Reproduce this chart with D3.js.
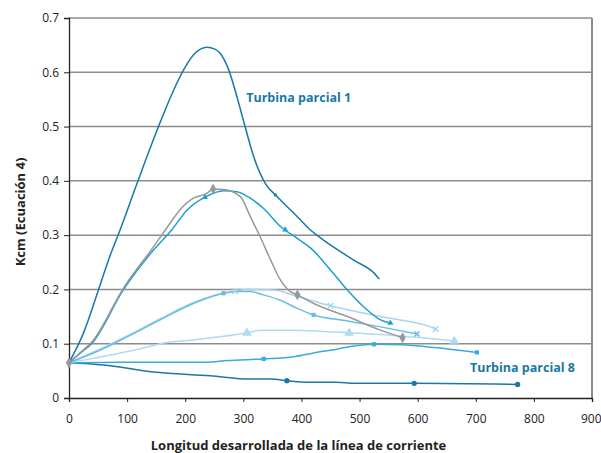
<!DOCTYPE html>
<html lang="en">
<head>
<meta charset="UTF-8">
<title>Kcm</title>
<style>
  body { margin: 0; background: #fff; }
  text { font-family: "Open Sans", "DejaVu Sans", sans-serif; }
</style>
</head>
<body>
<svg height="453" width="601"></svg>
<script src="https://d3js.org/d3.v7.min.js"></script>
<script>

    // tick values
    var xTicks = [0, 100, 200, 300, 400, 500, 600, 700, 800, 900];
    var yTicks = [0, 0.1, 0.2, 0.3, 0.4, 0.5, 0.6, 0.7];

    // Turbina parcial 1
    var tp1 = [[0,0.065],[25,0.12],[51,0.2],[70,0.26],[88,0.31],[117,0.395],[154,0.5],[180,0.567],
        [197,0.604],[214,0.632],[238,0.646],[250,0.643],[260,0.635],[275,0.604],[289,0.555],[303,0.5],
        [318,0.444],[338,0.395],[358,0.371],[393,0.334],[416,0.309],[438,0.291],[490,0.254],[525,0.23],[534,0.219]];
    var tp1Marks = [[355,0.374]];

    // grey curve
    var grey = [[0,0.065],[20,0.084],[40,0.104],[94,0.203],[145,0.278],[174,0.322],[189,0.344],[214,0.368],[237,0.377],
        [248,0.385],[266,0.384],[295,0.371],[312,0.334],[329,0.297],[347,0.254],[364,0.217],[381,0.196],
        [393,0.19],[421,0.174],[479,0.15],[536,0.125],[574,0.111]];
    var greyMarks = [[0,0.065],[248,0.385],[393,0.19],[574,0.111]];

    // cyan curve
    var cyan = [[0,0.065],[20,0.083],[39,0.1],[94,0.2],[145,0.272],[177,0.31],[203,0.346],[234,0.37],[266,0.382],
        [289,0.38],[312,0.368],[335,0.349],[364,0.316],[393,0.294],[416,0.276],[450,0.236],[479,0.199],
        [507,0.168],[536,0.144],[553,0.138]];
    var cyanMarks = [[234,0.37],[372,0.31],[553,0.138]];

    // light blue, squares
    var lbSq = [[0,0.065],[53,0.088],[99,0.112],[157,0.144],[214,0.174],[266,0.193],[289,0.196],[312,0.196],
        [335,0.19],[364,0.18],[393,0.165],[421,0.153],[479,0.142],[536,0.131],[599,0.118]];
    var lbSqMarks = [[266,0.193],[421,0.153]];
    var lbSqEnd = [[599,0.118]];

    // lighter blue, crosses
    var lbX = [[0,0.065],[53,0.09],[99,0.114],[157,0.146],[214,0.176],[286,0.197],[306,0.2],[352,0.199],
        [393,0.187],[450,0.17],[536,0.15],[622,0.131],[631,0.127]];
    var lbXMarks = [[286,0.197],[450,0.17],[631,0.127]];

    // lightest blue, triangles
    var lbTri = [[0,0.065],[42,0.073],[128,0.092],[157,0.1],[214,0.107],[306,0.12],[329,0.125],[386,0.125],
        [444,0.122],[482,0.12],[560,0.115],[663,0.105]];
    var lbTriMarks = [[306,0.12],[482,0.12],[663,0.105]];

    // medium blue, flat then rising
    var mid = [[0,0.065],[91,0.066],[237,0.066],[272,0.069],[335,0.072],[387,0.076],[421,0.083],[461,0.09],
        [490,0.096],[525,0.099],[571,0.098],[628,0.093],[702,0.084]];
    var midMarks = [[335,0.072],[525,0.099],[702,0.084]];

    // Turbina parcial 8
    var tp8 = [[0,0.065],[59,0.061],[145,0.048],[243,0.041],[312,0.035],[347,0.035],[375,0.032],[410,0.029],
        [461,0.029],[490,0.027],[594,0.027],[772,0.025]];
    var tp8Marks = [[375,0.032],[594,0.027],[772,0.025]];

    var svg = d3.select("svg"),
        margin = {top: 18, right: 9, bottom: 55, left: 69};

    var width = +svg.attr("width") - margin.left - margin.right;
    var height = +svg.attr("height") - margin.top - margin.bottom;

    var x = d3.scaleLinear().domain([0, 900]).range([0, width]);
    var y = d3.scaleLinear().domain([0, 0.7]).range([height, 0]);

    var g = svg.append("g")
        .attr("transform", "translate(" + margin.left + "," + margin.top + ")");

    // grid
    g.selectAll(".grid")
        .data(yTicks.slice(1))
        .enter()
        .append("line")
        .attr("x1", 0).attr("x2", width)
        .attr("y1", function(d) { return y(d); })
        .attr("y2", function(d) { return y(d); })
        .attr("stroke", "#8c8c8c")
        .attr("stroke-width", 1.5);

    g.append("line")
        .attr("x1", width).attr("x2", width)
        .attr("y1", 0).attr("y2", height)
        .attr("stroke", "#8c8c8c")
        .attr("stroke-width", 2);

    // axes
    var xAxis = g.append("g")
        .attr("transform", "translate(0," + height + ")")
        .call(d3.axisBottom(x).tickValues(xTicks).tickSize(4).tickPadding(12).tickFormat(d3.format("d")));
    var yAxis = g.append("g")
        .call(d3.axisLeft(y).tickValues(yTicks).tickSize(5).tickPadding(5).tickFormat(function(d) { return d === 0 ? "0" : d3.format(".1f")(d); }));

    [xAxis, yAxis].forEach(function(a) {
        a.select(".domain").attr("stroke", "#222").attr("stroke-width", 1.3);
        a.selectAll(".tick line").attr("stroke", "#222");
        a.selectAll(".tick text").attr("fill", "#222").style("font-size", "12px")
            .style("font-family", "'Open Sans', sans-serif");
    });
    // last x label sits against the page edge
    xAxis.selectAll(".tick text").filter(function(d) { return d === 900; })
        .attr("text-anchor", "end").attr("x", 9);

    var line = d3.line()
        .x(function(d) { return x(d[0]); })
        .y(function(d) { return y(d[1]); })
        .curve(d3.curveMonotoneX);

    function drawLine(data, color) {
        g.append("path")
            .datum(data)
            .attr("fill", "none")
            .attr("stroke", color)
            .attr("stroke-width", 1.5)
            .attr("d", line);
    }

    function drawMarks(data, color, type, size) {
        g.selectAll(null)
            .data(data)
            .enter()
            .append("path")
            .attr("transform", function(d) { return "translate(" + x(d[0]) + "," + y(d[1]) + ")"; })
            .attr("d", d3.symbol().type(type).size(size))
            .attr("fill", type === d3.symbolX ? "none" : color)
            .attr("stroke", color)
            .attr("stroke-width", type === d3.symbolX ? 1.5 : 0);
    }

    var c1 = "#1a78a5", cCyan = "#1f9fcf", cGrey = "#999999", cSq = "#6cbde2",
        cX = "#a6d6ef", cTri = "#b0dbf1", cMid = "#39acdb";

    drawLine(tp8, c1);
    drawLine(mid, cMid);
    drawLine(lbTri, cTri);
    drawLine(lbX, cX);
    drawLine(lbSq, cSq);
    drawLine(cyan, cCyan);
    drawLine(grey, cGrey);
    drawLine(tp1, c1);

    drawMarks(tp8Marks, c1, d3.symbolCircle, 22);
    drawMarks(midMarks, cMid, d3.symbolSquare, 18);
    drawMarks(lbTriMarks, cTri, d3.symbolTriangle, 40);
    drawMarks(lbXMarks, cX, d3.symbolX, 22);
    drawMarks(lbSqMarks, cSq, d3.symbolSquare, 18);
    drawMarks(lbSqEnd, cSq, d3.symbolX, 18);
    drawMarks(cyanMarks, cCyan, d3.symbolTriangle, 16);
    drawMarks(greyMarks, cGrey, d3.symbolDiamond, 34);
    drawMarks(tp1Marks, c1, d3.symbolSquare, 8);

    // labels
    g.append("text")
        .attr("x", x(305)).attr("y", y(0.545))
        .attr("fill", "#1a78a5")
        .style("font-size", "12.5px").style("font-weight", "bold")
        .text("Turbina parcial 1");
    g.append("text")
        .attr("x", x(690)).attr("y", y(0.047))
        .attr("fill", "#1a78a5")
        .style("font-size", "12.5px").style("font-weight", "bold")
        .text("Turbina parcial 8");

    svg.append("text")
        .attr("x", margin.left + x(395)).attr("y", 450)
        .attr("text-anchor", "middle")
        .attr("fill", "#222")
        .style("font-size", "13px").style("font-weight", "bold")
        .text("Longitud desarrollada de la línea de corriente");

    svg.append("text")
        .attr("transform", "translate(25,212) rotate(-90)")
        .attr("text-anchor", "middle")
        .attr("fill", "#222")
        .style("font-size", "13px").style("font-weight", "bold")
        .text("Kcm (Ecuación 4)");

</script>
</body>
</html>
